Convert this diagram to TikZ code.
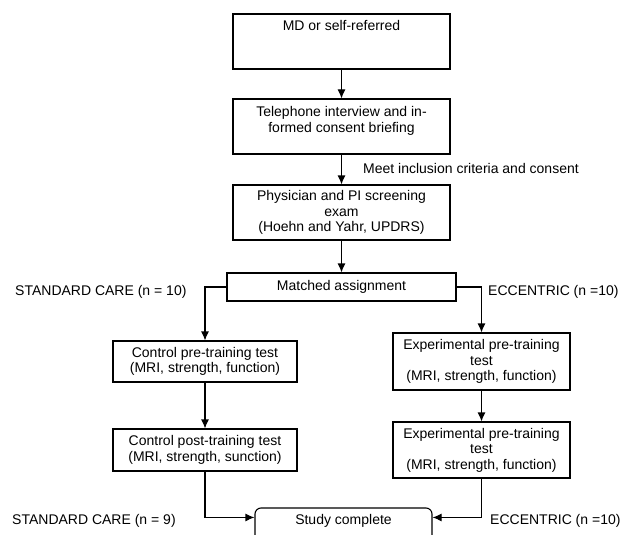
\documentclass[tikz,border=0pt]{standalone}
\usepackage{fontspec}
\setmainfont{Liberation Sans}
\usetikzlibrary{arrows.meta,calc}
\tikzset{
  box/.style={draw, line width=1.1pt, inner sep=2pt, align=center, font=\fontsize{14}{15.5}\selectfont},
  lbl/.style={inner sep=0pt, anchor=west, font=\fontsize{14}{15.5}\selectfont},
  arr/.style={line width=1.1pt, -{Latex[length=9pt,width=8pt]}},
  ln/.style={line width=1.1pt}
}
\begin{document}
\begin{tikzpicture}[x=1pt,y=-1pt]
\clip (0,0) rectangle (632,535);
\fill[white] (0,0) rectangle (632,535);
% boxes
\node[box, minimum width=217pt, minimum height=55pt] (b1) at (341.5,41.5)
  {\parbox[c][49pt][t]{205pt}{\centering\rule{0pt}{14pt}MD or self-referred}};
\node[box, minimum width=217pt, minimum height=55pt] (b2) at (341.5,126.5)
  {\parbox[c][49pt][t]{205pt}{\centering\rule{0pt}{14.5pt}Telephone interview and in-\\formed consent briefing}};
\node[box, minimum width=217pt, minimum height=55pt] (b3) at (341.5,212.5)
  {Physician and PI screening\\exam\\(Hoehn and Yahr, UPDRS)};
\node[box, minimum width=229pt, minimum height=28pt] (m) at (341.5,287)
  {Matched assignment};
\node[box, minimum width=184pt, minimum height=41pt] (cpre) at (205,361.5)
  {Control pre-training test\\(MRI, strength, function)};
\node[box, minimum width=184pt, minimum height=42pt] (cpost) at (205,450)
  {Control post-training test\\(MRI, strength, sunction)};
\node[box, minimum width=177pt, minimum height=57pt] (epre) at (481.5,361.5)
  {Experimental pre-training\\test\\(MRI, strength, function)};
\node[box, minimum width=177pt, minimum height=56pt] (epost) at (481.5,450)
  {Experimental pre-training\\test\\(MRI, strength, function)};
\node[box, rounded corners=6pt, minimum width=177pt, minimum height=44pt] (s) at (343.5,530)
  {\parbox[c][38pt][t]{170pt}{\centering\rule{0pt}{13.5pt}Study complete}};
% connectors
\draw[arr] (b1) -- (b2);
\draw[arr] (b2) -- (b3);
\draw[arr] (b3) -- (m);
\draw[arr] (m.west) -| (cpre.north);
\draw[arr] (m.east) -| (epre.north);
\draw[arr] (cpre) -- (cpost);
\draw[arr] (epre) -- (epost);
\coordinate (sl) at ($(s.north west)+(0,10)$);
\coordinate (sr) at ($(s.north east)+(0,10)$);
\draw[arr] (cpost.south) |- (sl);
\draw[arr] (epost.south) |- (sr);
% labels
\node[lbl] (t1) at (363,168) {Meet inclusion criteria and consent};
\node[lbl] (t2) at (15,292) {STANDARD CARE (n = 10)};
\node[lbl] (t3) at (488,292) {ECCENTRIC (n =10)};
\node[lbl] (t4) at (12,521) {STANDARD CARE (n = 9)};
\node[lbl] (t5) at (490,521) {ECCENTRIC (n =10)};
\end{tikzpicture}
\end{document}
